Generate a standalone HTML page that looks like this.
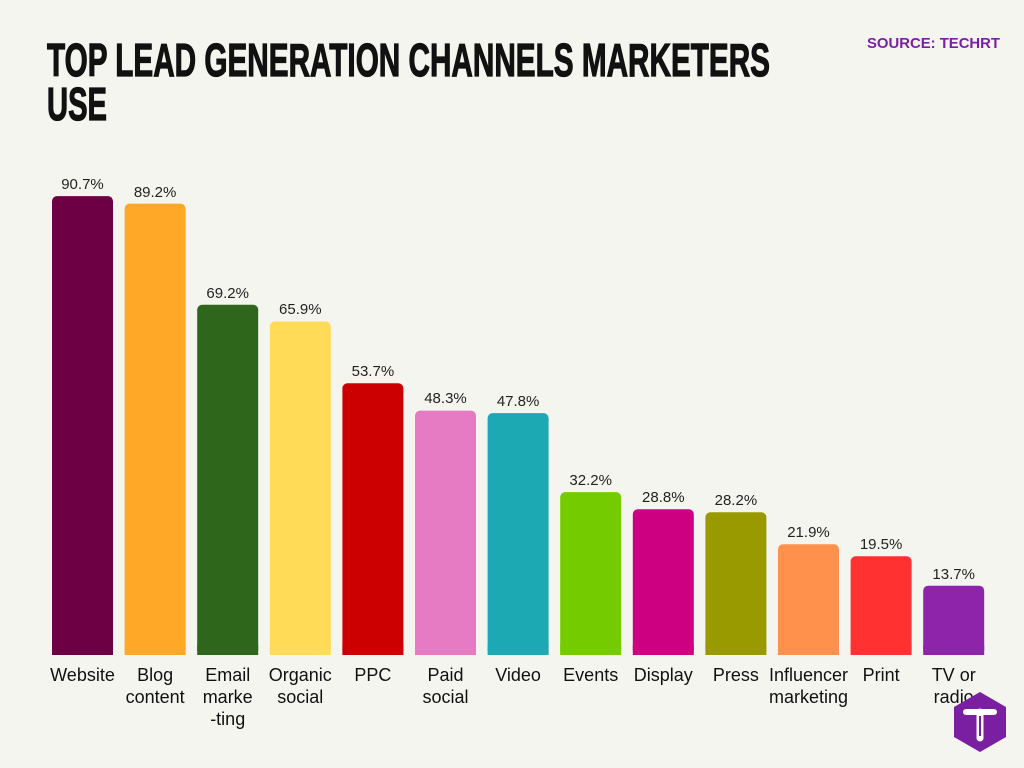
<!DOCTYPE html>
<html><head><meta charset="utf-8"><style>
html,body{margin:0;padding:0;background:#f5f5f0;}
svg{display:block;font-family:"Liberation Sans",sans-serif;}
</style></head><body>
<svg width="1024" height="768" viewBox="0 0 1024 768">
<rect width="1024" height="768" fill="#f5f5f0"/>
<text x="47" y="76" font-size="46" font-weight="bold" fill="#111" stroke="#111" stroke-width="1.2" textLength="723" lengthAdjust="spacingAndGlyphs">TOP LEAD GENERATION CHANNELS MARKETERS</text>
<text x="47" y="120" font-size="46" font-weight="bold" fill="#111" stroke="#111" stroke-width="1.2" textLength="60" lengthAdjust="spacingAndGlyphs">USE</text>
<text x="867" y="48" font-size="15" font-weight="bold" fill="#7B1FA2" textLength="133" lengthAdjust="spacingAndGlyphs">SOURCE: TECHRT</text>

<g>
<rect x="52" y="196.1" width="61" height="458.9" rx="5" fill="#6D0044"/>
<rect x="124.6" y="203.6" width="61" height="451.4" rx="5" fill="#FFA726"/>
<rect x="197.2" y="304.8" width="61" height="350.2" rx="5" fill="#2E661B"/>
<rect x="269.8" y="321.5" width="61" height="333.5" rx="5" fill="#FFDB58"/>
<rect x="342.4" y="383.3" width="61" height="271.7" rx="5" fill="#CC0000"/>
<rect x="415" y="410.6" width="61" height="244.4" rx="5" fill="#E67AC3"/>
<rect x="487.6" y="413.1" width="61" height="241.9" rx="5" fill="#1DA9B3"/>
<rect x="560.2" y="492.1" width="61" height="162.9" rx="5" fill="#74CC00"/>
<rect x="632.8" y="509.3" width="61" height="145.7" rx="5" fill="#CC0080"/>
<rect x="705.4" y="512.3" width="61" height="142.7" rx="5" fill="#999900"/>
<rect x="778" y="544.2" width="61" height="110.8" rx="5" fill="#FF914D"/>
<rect x="850.6" y="556.3" width="61" height="98.7" rx="5" fill="#FF3131"/>
<rect x="923.2" y="585.7" width="61" height="69.3" rx="5" fill="#8E24AA"/>
<rect x="52" y="645" width="61" height="10" fill="#6D0044"/>
<rect x="124.6" y="645" width="61" height="10" fill="#FFA726"/>
<rect x="197.2" y="645" width="61" height="10" fill="#2E661B"/>
<rect x="269.8" y="645" width="61" height="10" fill="#FFDB58"/>
<rect x="342.4" y="645" width="61" height="10" fill="#CC0000"/>
<rect x="415" y="645" width="61" height="10" fill="#E67AC3"/>
<rect x="487.6" y="645" width="61" height="10" fill="#1DA9B3"/>
<rect x="560.2" y="645" width="61" height="10" fill="#74CC00"/>
<rect x="632.8" y="645" width="61" height="10" fill="#CC0080"/>
<rect x="705.4" y="645" width="61" height="10" fill="#999900"/>
<rect x="778" y="645" width="61" height="10" fill="#FF914D"/>
<rect x="850.6" y="645" width="61" height="10" fill="#FF3131"/>
<rect x="923.2" y="645" width="61" height="10" fill="#8E24AA"/>
</g>

<g font-size="15" fill="#222" text-anchor="middle">
<text x="82.5" y="189">90.7%</text>
<text x="155.1" y="197">89.2%</text>
<text x="227.7" y="298">69.2%</text>
<text x="300.3" y="314">65.9%</text>
<text x="372.9" y="376">53.7%</text>
<text x="445.5" y="403">48.3%</text>
<text x="518.1" y="406">47.8%</text>
<text x="590.7" y="485">32.2%</text>
<text x="663.3" y="502">28.8%</text>
<text x="735.9" y="505">28.2%</text>
<text x="808.5" y="537">21.9%</text>
<text x="881.1" y="549">19.5%</text>
<text x="953.7" y="579">13.7%</text>
</g>

<g font-size="18" fill="#111" text-anchor="middle">
<text x="82.5" y="681">Website</text>
<text x="155.1" y="681">Blog</text><text x="155.1" y="703">content</text>
<text x="227.7" y="681">Email</text><text x="227.7" y="703">marke</text><text x="227.7" y="725">-ting</text>
<text x="300.3" y="681">Organic</text><text x="300.3" y="703">social</text>
<text x="372.9" y="681">PPC</text>
<text x="445.5" y="681">Paid</text><text x="445.5" y="703">social</text>
<text x="518.1" y="681">Video</text>
<text x="590.7" y="681">Events</text>
<text x="663.3" y="681">Display</text>
<text x="735.9" y="681">Press</text>
<text x="808.5" y="681">Influencer</text><text x="808.5" y="703">marketing</text>
<text x="881.1" y="681">Print</text>
<text x="953.7" y="681">TV or</text><text x="953.7" y="703">radio</text>
</g>

<polygon points="980,692 1006,707 1006,737 980,752 954,737 954,707" fill="#7B1FA2"/>
<path d="M966,712 h28" stroke="#fff" stroke-width="6" stroke-linecap="round" fill="none"/>
<path d="M980,712 v26" stroke="#fff" stroke-width="7" stroke-linecap="round" fill="none"/>
<path d="M980,716 v20" stroke="#7B1FA2" stroke-width="2" fill="none"/>
</svg>
</body></html>
